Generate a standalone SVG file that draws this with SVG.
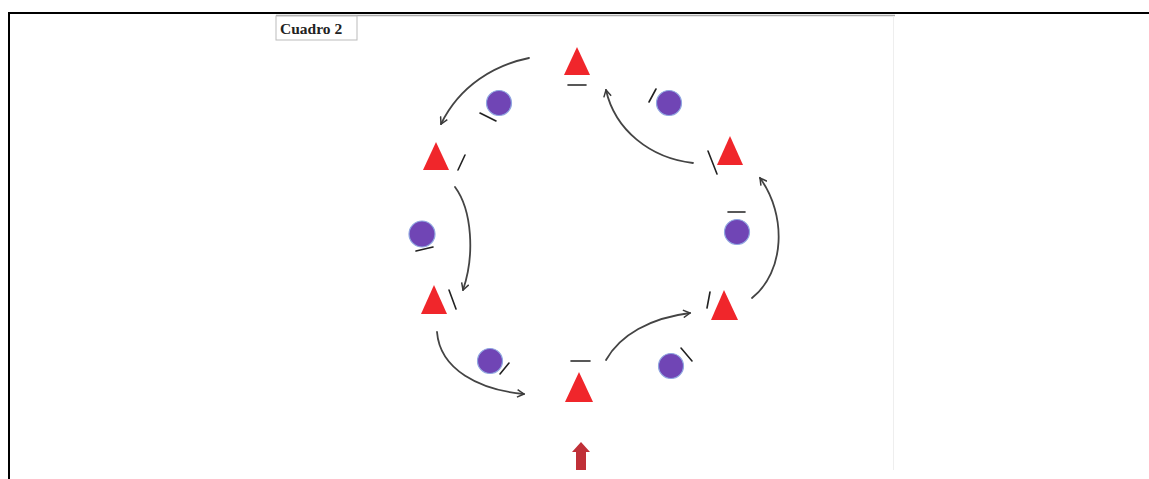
<svg xmlns="http://www.w3.org/2000/svg" width="1149" height="479" viewBox="0 0 1149 479">
<defs>
<style>
.tri{fill:#f0262b}
.cir{fill:#7045b5;stroke:#8fa6e0;stroke-width:1.2}
.mk{stroke:#222;stroke-width:1.6;fill:none;stroke-linecap:round}
.con{stroke:#444;stroke-width:1.8;fill:none;stroke-linecap:round}
</style>
<marker id="ah" viewBox="0 0 12 12" refX="10" refY="6" markerWidth="9" markerHeight="9" markerUnits="userSpaceOnUse" orient="auto">
<path d="M1,1 L10,6 L1,11" fill="none" stroke="#3a3a3a" stroke-width="2"/>
</marker>
</defs>
<rect width="1149" height="479" fill="#fff"/>
<g id="frame">
<line x1="8" y1="13" x2="1149" y2="13" stroke="#000" stroke-width="2"/>
<line x1="9" y1="12" x2="9" y2="479" stroke="#000" stroke-width="2"/>
<line x1="276" y1="15.5" x2="895" y2="15.5" stroke="#aaa" stroke-width="1.5"/>
<line x1="893.5" y1="16" x2="893.5" y2="470" stroke="#eee" stroke-width="1"/>
</g>
<g id="title">
<rect x="276" y="16" width="81" height="24" fill="#fff" stroke="#bbb" stroke-width="1"/>
<text x="280" y="34" font-family="Liberation Serif, serif" font-weight="bold" font-size="15.5" fill="#222">Cuadro 2</text>
</g>
<g id="connectors">
<path class="con" d="M529,58 C495,65 460,85 441,124" marker-end="url(#ah)" stroke-width="2.6"/>
<path class="con" d="M455,187 C472,210 475,255 463,290" marker-end="url(#ah)"/>
<path class="con" d="M437,332 C440,370 480,390 524,394" marker-end="url(#ah)"/>
<path class="con" d="M606,360 C620,335 650,318 690,313" marker-end="url(#ah)"/>
<path class="con" d="M752,298 C785,272 787,215 760,178" marker-end="url(#ah)"/>
<path class="con" d="M693,163 C650,158 615,130 606,90" marker-end="url(#ah)"/>
</g>
<g id="tri-top"><polygon class="tri" points="577,47 590,75 564,75"/><line class="mk" x1="568" y1="85" x2="586" y2="85"/></g>
<g id="tri-ul"><polygon class="tri" points="436,142 449,170 423,170"/><line class="mk" x1="458" y1="170" x2="465" y2="155"/></g>
<g id="tri-ll"><polygon class="tri" points="434,285 447,314 421,314"/><line class="mk" x1="449" y1="290" x2="456" y2="309"/></g>
<g id="tri-bot"><polygon class="tri" points="579,372 593,402 565,402"/><line class="mk" x1="571" y1="361" x2="590" y2="361"/></g>
<g id="tri-lr"><polygon class="tri" points="724,290 738,320 711,320"/><line class="mk" x1="710" y1="292" x2="707" y2="308"/></g>
<g id="tri-ur"><polygon class="tri" points="730,136 743,165 717,165"/><line class="mk" x1="708" y1="151" x2="717" y2="174"/></g>
<g id="cir-1"><circle class="cir" cx="499" cy="103" r="12.5"/><line class="mk" x1="480" y1="113" x2="496" y2="121"/></g>
<g id="cir-2"><circle class="cir" cx="669" cy="103" r="12.5"/><line class="mk" x1="649" y1="102" x2="656" y2="89"/></g>
<g id="cir-3"><circle class="cir" cx="422" cy="234" r="13"/><line class="mk" x1="416" y1="251" x2="433" y2="247"/></g>
<g id="cir-4"><circle class="cir" cx="737" cy="232" r="12.5"/><line class="mk" x1="728" y1="212" x2="745" y2="212"/></g>
<g id="cir-5"><circle class="cir" cx="490" cy="361" r="12.5"/><line class="mk" x1="500" y1="374" x2="509" y2="363"/></g>
<g id="cir-6"><circle class="cir" cx="671" cy="366" r="12.5"/><line class="mk" x1="681" y1="348" x2="692" y2="361"/></g>
<g id="entry-arrow"><polygon points="581,442 590,452 586,452 586,470 576,470 576,452 572,452" fill="#c03038"/></g>
</svg>
